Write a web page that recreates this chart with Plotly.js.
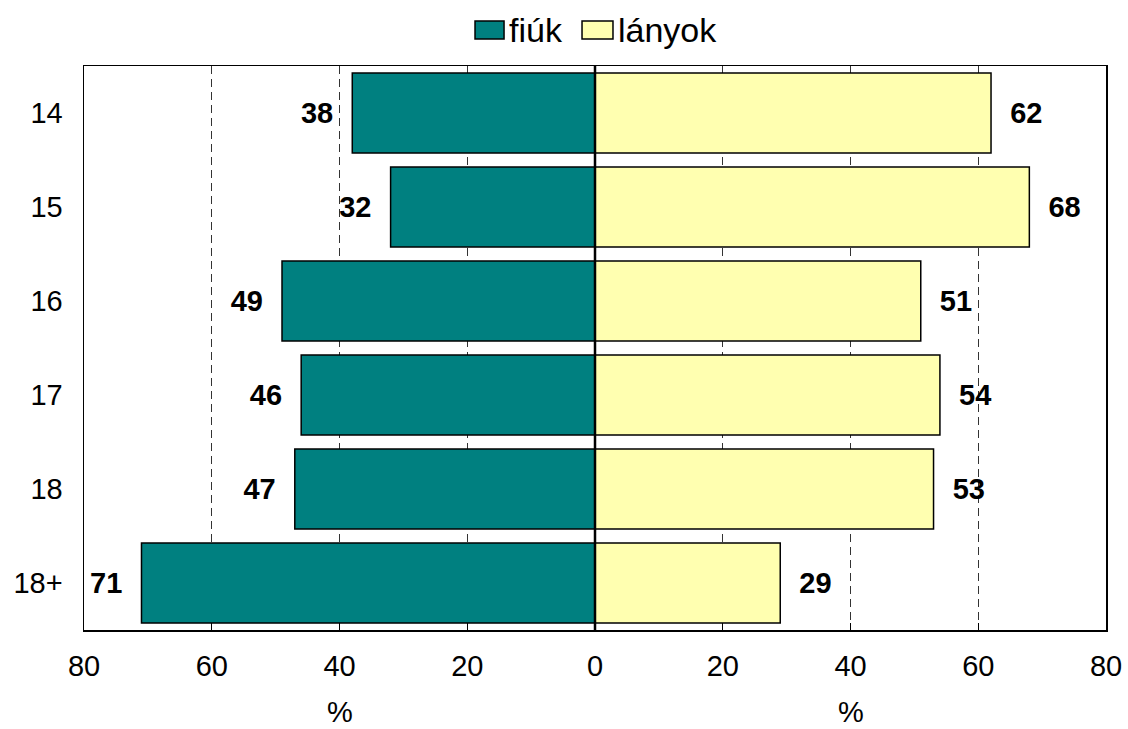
<!DOCTYPE html>
<html>
<head>
<meta charset="utf-8">
<script src="https://cdn.plot.ly/plotly-3.0.1.min.js"></script>
<style>html,body{margin:0;padding:0;background:#fff}#chart{width:1128px;height:729px}</style>
</head>
<body>
<div id="chart"></div>
<script>
const categories = ["14", "15", "16", "17", "18", "18+"];
const fiuk = [38, 32, 49, 46, 47, 71];
const lanyok = [62, 68, 51, 54, 53, 29];
const seriesNames = ["fiúk", "lányok"];
const tickValues = [-80, -60, -40, -20, 0, 20, 40, 60, 80];
const tickLabels = ["80", "60", "40", "20", "0", "20", "40", "60", "80"];

const fontFam = "Arial, 'Liberation Sans', sans-serif";
const colFiuk = "#008080", colLany = "#FFFFB0";
const pad = "\u00a0\u00a0";

const traces = [
  {
    type: "bar", orientation: "h", name: seriesNames[0],
    y: categories, x: fiuk.map(v => -v),
    text: fiuk.map(v => String(v) + pad), textposition: "outside",
    textfont: {family: fontFam, size: 29, color: "#000", weight: "bold"},
    marker: {color: colFiuk, line: {color: "#000", width: 1.5}},
    cliponaxis: false, hoverinfo: "skip"
  },
  {
    type: "bar", orientation: "h", name: seriesNames[1],
    y: categories, x: lanyok,
    text: lanyok.map(v => pad + String(v)), textposition: "outside",
    textfont: {family: fontFam, size: 29, color: "#000", weight: "bold"},
    marker: {color: colLany, line: {color: "#000", width: 1.5}},
    cliponaxis: false, hoverinfo: "skip"
  }
];

const legendFont = {family: fontFam, size: 34, color: "#000"};

const layout = {
  width: 1128, height: 729,
  margin: {l: 84, r: 22, t: 66, b: 99, autoexpand: false},
  paper_bgcolor: "#fff", plot_bgcolor: "#fff",
  barmode: "relative", bargap: 0.15,
  font: {family: fontFam, size: 29, color: "#000"},
  showlegend: false,
  xaxis: {
    range: [-80, 80], tickvals: tickValues, ticktext: tickLabels,
    showgrid: true, gridcolor: "#333", griddash: "8px,5px", gridwidth: 1,
    zeroline: false,
    showline: true, linecolor: "#000", linewidth: 1.5, mirror: true,
    ticks: "inside", ticklen: 7, tickcolor: "#000",
    ticklabelstandoff: 10,
    tickfont: {family: fontFam, size: 29, color: "#000"}, fixedrange: true
  },
  yaxis: {
    type: "category", autorange: "reversed",
    showgrid: false, zeroline: false,
    showline: true, linecolor: "#000", linewidth: 1.5, mirror: true,
    ticks: "", ticklabelstandoff: 14,
    tickfont: {family: fontFam, size: 29, color: "#000"}, fixedrange: true
  },
  shapes: [
    {type: "line", xref: "x", yref: "paper", x0: 0, x1: 0, y0: 0, y1: 1,
     line: {color: "#000", width: 2.5}, layer: "above"},
    {type: "rect", xref: "paper", yref: "paper", x0: 0.3826, x1: 0.4110, y0: 1.0479, y1: 1.0798,
     fillcolor: colFiuk, line: {color: "#000", width: 1.5}},
    {type: "rect", xref: "paper", yref: "paper", x0: 0.4873, x1: 0.5176, y0: 1.0479, y1: 1.0798,
     fillcolor: colLany, line: {color: "#000", width: 1.5}}
  ],
  annotations: [
    {xref: "paper", yref: "paper", x: 0.4140, y: 1.0638, text: seriesNames[0], showarrow: false,
     xanchor: "left", yanchor: "middle", font: legendFont},
    {xref: "paper", yref: "paper", x: 0.5205, y: 1.0638, text: seriesNames[1], showarrow: false,
     xanchor: "left", yanchor: "middle", font: legendFont},
    {xref: "x", yref: "paper", x: -40, y: -0.145, text: "%", showarrow: false,
     font: {family: fontFam, size: 29, color: "#000"}, yanchor: "middle"},
    {xref: "x", yref: "paper", x: 40, y: -0.145, text: "%", showarrow: false,
     font: {family: fontFam, size: 29, color: "#000"}, yanchor: "middle"}
  ]
};

Plotly.newPlot("chart", traces, layout, {displayModeBar: false, staticPlot: true});
</script>
</body>
</html>
